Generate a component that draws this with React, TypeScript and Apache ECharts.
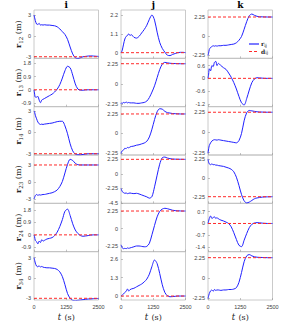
import React, { useEffect, useRef } from 'react';
import * as echarts from 'echarts';

const T = [0, 25, 50, 100, 150, 200, 250, 300, 350, 400, 500, 600, 700, 800, 900, 1000, 1100, 1200, 1300, 1400, 1500, 1600, 1700, 1800, 1900, 2000, 2100, 2200, 2300, 2400, 2500];

const rowNames = ['12', '13', '14', '23', '24', '34'];
const colNames = ['i', 'j', 'k'];
const xTicks = [0, 1250, 2500];

// column i
const iR12 = [3.0, 2.6, 2.2, 1.7, 1.65, 1.8, 1.55, 1.6, 1.55, 1.6, 1.55, 1.55, 1.5, 1.45, 1.3, 1.0, 0.6, 0.2, -0.5, -1.6, -2.6, -3.15, -3.25, -3.15, -3.0, -2.95, -2.9, -2.88, -2.9, -2.93, -2.95];
const iR13 = [0, -0.3, -0.5, -0.5, -0.45, -0.7, -0.88, -0.7, -0.65, -0.6, -0.5, -0.4, -0.3, -0.15, 0.05, 0.35, 0.8, 1.3, 1.6, 1.5, 1.0, 0.4, 0.05, -0.03, -0.03, -0.01, 0, 0, 0, 0, 0];
const iR14 = [3.0, 2.8, 2.4, 1.9, 1.45, 1.2, 1.1, 1.15, 1.1, 1.15, 1.2, 1.25, 1.3, 1.4, 1.5, 1.55, 1.55, 0.9, -0.2, -1.6, -2.6, -3.05, -3.15, -3.15, -3.1, -3.05, -3.0, -3.0, -3.0, -3.0, -3.0];
const iR23 = [-3.0, -2.7, -2.4, -2.2, -2.35, -2.25, -2.3, -2.25, -2.2, -2.2, -2.1, -2.0, -1.9, -1.7, -1.4, -0.8, 0.1, 1.6, 3.1, 4.0, 3.8, 3.3, 3.05, 3.0, 3.0, 3.0, 3.0, 3.0, 3.0, 3.0, 3.0];
const iR24 = [0, -0.15, -0.4, -0.5, -0.65, -0.45, -0.55, -0.35, -0.45, -0.4, -0.3, -0.25, -0.2, -0.05, 0.2, 0.6, 1.1, 1.7, 1.85, 1.4, 0.8, 0.35, 0.1, -0.05, -0.1, -0.08, -0.05, -0.02, 0, 0, 0];
const iR34 = [3.0, 2.6, 2.2, 1.75, 1.65, 1.8, 1.6, 1.7, 1.6, 1.55, 1.5, 1.5, 1.45, 1.4, 1.25, 0.9, 0.2, -1.0, -2.3, -3.0, -3.3, -3.35, -3.3, -3.25, -3.2, -3.15, -3.1, -3.1, -3.05, -3.05, -3.0];

// column j
const jR12 = [0, 0.05, 0.15, 0.5, 0.8, 0.95, 1.0, 1.1, 1.0, 1.05, 0.9, 0.85, 0.95, 1.15, 1.35, 1.6, 1.95, 2.2, 1.9, 1.2, 0.6, 0.25, 0.03, -0.15, -0.17, -0.1, -0.05, 0, 0.02, 0.02, 0];
const jR13 = [-2.2, -2.1, -2.15, -2.05, -2.1, -2.0, -2.1, -2.05, -2.1, -2.1, -2.1, -2.15, -2.15, -2.1, -2.05, -1.9, -1.5, -0.9, -0.2, 0.7, 1.6, 2.2, 2.4, 2.35, 2.3, 2.28, 2.27, 2.26, 2.25, 2.25, 2.25];
const jR14 = [-2.3, -2.1, -2.0, -1.9, -1.7, -1.75, -1.6, -1.65, -1.55, -1.5, -1.45, -1.35, -1.3, -1.2, -1.1, -0.9, -0.4, 0.5, 1.6, 2.5, 2.85, 2.8, 2.55, 2.4, 2.35, 2.3, 2.28, 2.27, 2.25, 2.25, 2.25];
const jR23 = [-2.25, -2.5, -2.75, -2.9, -3.0, -2.95, -3.05, -3.0, -2.95, -3.0, -3.05, -3.0, -3.1, -3.25, -3.4, -3.55, -3.75, -3.5, -2.0, -0.2, 1.5, 2.5, 2.6, 2.45, 2.35, 2.3, 2.28, 2.27, 2.26, 2.25, 2.25];
const jR24 = [-2.1, -2.3, -2.5, -2.6, -2.55, -2.6, -2.5, -2.55, -2.5, -2.45, -2.35, -2.25, -2.25, -2.3, -2.35, -2.3, -1.9, -0.8, 0.4, 1.5, 2.2, 2.5, 2.6, 2.55, 2.45, 2.35, 2.3, 2.28, 2.26, 2.25, 2.25];
const jR34 = [0, 0.03, 0.08, 0.15, 0.25, 0.35, 0.5, 0.35, 0.45, 0.5, 0.55, 0.65, 0.75, 0.85, 1.0, 1.2, 1.55, 2.1, 2.55, 2.3, 1.6, 0.8, 0.25, 0.02, -0.05, -0.04, -0.02, 0, 0, 0, 0];

// column k
const kR12 = [-2.3, -2.0, -1.6, -1.35, -1.25, -1.15, -1.2, -1.15, -1.2, -1.15, -1.15, -1.1, -1.1, -1.05, -1.0, -0.95, -0.8, -0.5, -0.05, 0.8, 1.7, 2.4, 2.6, 2.45, 2.33, 2.28, 2.27, 2.26, 2.25, 2.25, 2.25];
const kR13 = [0, 0.2, 0.45, 0.35, 0.6, 0.55, 0.75, 0.8, 0.6, 0.7, 0.6, 0.5, 0.42, 0.25, 0.05, -0.2, -0.5, -0.85, -1.15, -1.25, -0.95, -0.55, -0.2, -0.03, 0.03, 0.02, 0.01, 0, 0, 0, 0];
const kR14 = [-2.3, -1.8, -1.45, -1.15, -0.95, -0.85, -0.8, -0.82, -0.85, -0.8, -0.85, -0.9, -0.95, -1.0, -1.05, -1.1, -1.15, -0.9, -0.1, 1.3, 2.2, 2.45, 2.4, 2.35, 2.3, 2.28, 2.27, 2.26, 2.25, 2.25, 2.25];
const kR23 = [2.25, 1.9, 1.7, 1.6, 1.7, 1.6, 1.62, 1.55, 1.55, 1.5, 1.45, 1.4, 1.3, 1.2, 1.05, 0.75, 0.1, -0.9, -2.0, -2.75, -3.0, -2.9, -2.7, -2.5, -2.4, -2.35, -2.3, -2.28, -2.27, -2.26, -2.25];
const kR24 = [0, 0.15, 0.3, 0.45, 0.3, 0.35, 0.4, 0.3, 0.35, 0.28, 0.2, 0.15, 0.08, 0.0, -0.2, -0.55, -0.95, -1.3, -1.38, -1.0, -0.6, -0.25, -0.05, 0.03, 0.05, 0.04, 0.02, 0.01, 0, 0, 0];
const kR34 = [-2.3, -2.0, -1.75, -1.45, -1.35, -1.5, -1.3, -1.4, -1.35, -1.35, -1.4, -1.35, -1.35, -1.3, -1.3, -1.25, -1.1, -0.5, 0.6, 1.8, 2.45, 2.6, 2.45, 2.35, 2.3, 2.28, 2.27, 2.26, 2.25, 2.25, 2.25];

// desired distances d_ij
const refI = [-3, 0, -3, 3, 0, -3];
const refJ = [0, 2.25, 2.25, 2.25, 2.25, 0];
const refK = [2.25, 0, 2.25, -2.25, 0, 2.25];

// y tick labels
const ticksI = [[-3, 0, 3], [-0.9, 0, 0.9, 1.8], [-3, 0, 3], [-3, 0, 3], [-0.9, 0, 0.9, 1.8], [-3, 0, 3]];
const ticksJ = [[0, 1.1, 2.2], [-2.25, 0, 2.25], [-2.25, 0, 2.25], [-4.5, -2.25, 0, 2.25], [-2.25, 0, 2.25], [0, 1.3, 2.6]];
const ticksK = [[-2.25, 0, 2.25], [-1.2, -0.6, 0, 0.6], [-2.25, 0, 2.25], [-2.25, 0, 2.25], [-1.4, -0.7, 0, 0.7], [-2.25, 0, 2.25]];

// y axis ranges
const limsI = [[-3.23, 3.72], [-1.15, 2.14], [-3.18, 3.6], [-3.76, 4.76], [-1.21, 2.27], [-3.25, 3.88]];
const limsJ = [[-0.33, 2.49], [-2.52, 2.85], [-2.48, 3.09], [-4.55, 2.92], [-2.98, 3.24], [-0.28, 3.14]];
const limsK = [[-2.64, 3.08], [-1.33, 0.94], [-2.5, 2.87], [-3.05, 2.77], [-1.68, 1.2], [-2.47, 2.92]];

const COLS = [
  { data: [iR12, iR13, iR14, iR23, iR24, iR34], ref: refI, ticks: ticksI, lims: limsI },
  { data: [jR12, jR13, jR14, jR23, jR24, jR34], ref: refJ, ticks: ticksJ, lims: limsJ },
  { data: [kR12, kR13, kR14, kR23, kR24, kR34], ref: refK, ticks: ticksK, lims: limsK },
];

const LEFT = [34, 121, 208];
const W = 64.5;
const TOP = 10;
const H = 290 / 6;
const BLUE = '#2020ff';
const RED = '#ff2a2a';
const SERIF = '"DejaVu Serif", "Liberation Serif", serif';
const SANS = '"Liberation Sans", Arial, sans-serif';

function buildOption() {
  const grid: any[] = [];
  const xAxis: any[] = [];
  const yAxis: any[] = [];
  const series: any[] = [];
  const graphic: any[] = [];

  COLS.forEach((col, c) => {
    col.data.forEach((vals, r) => {
      const idx = c * 6 + r;
      grid.push({
        left: LEFT[c], top: TOP + r * H, width: W, height: H,
        show: true, borderColor: '#bcbcbc', borderWidth: 0.8, backgroundColor: 'rgba(0,0,0,0)',
      });
      xAxis.push({
        gridIndex: idx, type: 'value', min: 0, max: 2500, interval: 1250, position: 'bottom',
        axisLine: { show: false, onZero: false },
        axisTick: { show: true, inside: true, length: 2, lineStyle: { color: '#999', width: 0.6 } },
        axisLabel: { show: r === 5, fontSize: 5.5, margin: 4, color: '#404040', fontFamily: SANS, formatter: (v: number) => String(v) },
        splitLine: { show: false },
      });
      yAxis.push({
        gridIndex: idx, type: 'value', min: col.lims[r][0], max: col.lims[r][1],
        axisLine: { show: false, onZero: false },
        axisTick: { show: true, inside: true, length: 2, customValues: col.ticks[r], lineStyle: { color: '#999', width: 0.6 } },
        axisLabel: { customValues: col.ticks[r], fontSize: 5.5, margin: 3, color: '#404040', fontFamily: SANS, formatter: (v: number) => String(v) },
        splitLine: { show: false },
      });
      series.push({
        type: 'line', xAxisIndex: idx, yAxisIndex: idx,
        data: T.map((t, k) => [t, vals[k]]),
        showSymbol: false, symbol: 'none', smooth: 0.3, silent: true,
        lineStyle: { color: BLUE, width: 1 },
      });
      series.push({
        type: 'line', xAxisIndex: idx, yAxisIndex: idx,
        data: [[0, col.ref[r]], [2500, col.ref[r]]],
        showSymbol: false, symbol: 'none', silent: true,
        lineStyle: { color: RED, width: 1, type: [3, 2] },
      });
    });
    graphic.push({
      type: 'text', x: LEFT[c] + W / 2, y: 5,
      style: { text: colNames[c], font: `bold 9px ${SERIF}`, fill: '#000', align: 'center', verticalAlign: 'middle' },
    });
    graphic.push({
      type: 'text', x: LEFT[c] + W / 2, y: 317,
      style: {
        text: '{it|t} {n|(s)}', align: 'center', verticalAlign: 'middle', fill: '#222',
        rich: {
          it: { fontFamily: SERIF, fontStyle: 'italic', fontSize: 8.5, fill: '#222' },
          n: { fontFamily: SERIF, fontSize: 8, fill: '#222' },
        },
      },
    });
  });

  rowNames.forEach((name, r) => {
    graphic.push({
      type: 'text', x: 19, y: TOP + r * H + H / 2, rotation: Math.PI / 2,
      style: {
        text: `{b|r}{s|${name}}{m| (m)}`, align: 'center', verticalAlign: 'middle', fill: '#222',
        rich: {
          b: { fontFamily: SERIF, fontWeight: 'bold', fontSize: 8, lineHeight: 10, verticalAlign: 'top', fill: '#222' },
          s: { fontFamily: SERIF, fontSize: 5.5, lineHeight: 10, verticalAlign: 'bottom', fill: '#222' },
          m: { fontFamily: SERIF, fontSize: 8, lineHeight: 10, verticalAlign: 'top', fill: '#222' },
        },
      },
    });
  });

  const lx = 249;
  graphic.push({ type: 'line', shape: { x1: lx, y1: 44, x2: lx + 10, y2: 44 }, style: { stroke: BLUE, lineWidth: 1.2 } });
  graphic.push({ type: 'line', shape: { x1: lx, y1: 51.5, x2: lx + 10, y2: 51.5 }, style: { stroke: RED, lineWidth: 1, lineDash: [3, 2] } });
  const legRich = {
    b: { fontFamily: SERIF, fontWeight: 'bold', fontSize: 6, lineHeight: 7, verticalAlign: 'top', fill: '#222' },
    s: { fontFamily: SERIF, fontSize: 4.5, lineHeight: 7, verticalAlign: 'bottom', fill: '#222' },
  };
  graphic.push({ type: 'text', x: lx + 12, y: 44, style: { text: '{b|r}{s|ij}', align: 'left', verticalAlign: 'middle', rich: legRich } });
  graphic.push({ type: 'text', x: lx + 12, y: 51.5, style: { text: '{b|d}{s|ij}', align: 'left', verticalAlign: 'middle', rich: legRich } });

  return { animation: false, backgroundColor: '#fff', grid, xAxis, yAxis, series, graphic };
}

export default function App() {
  const ref = useRef<HTMLDivElement>(null);
  useEffect(() => {
    if (!ref.current) return;
    const chart = echarts.init(ref.current, undefined, { renderer: 'svg' });
    chart.setOption(buildOption() as any);
    return () => chart.dispose();
  }, []);
  return <div ref={ref} style={{ position: 'fixed', left: 0, top: 0, width: 286, height: 326, background: '#fff' }} />;
}
